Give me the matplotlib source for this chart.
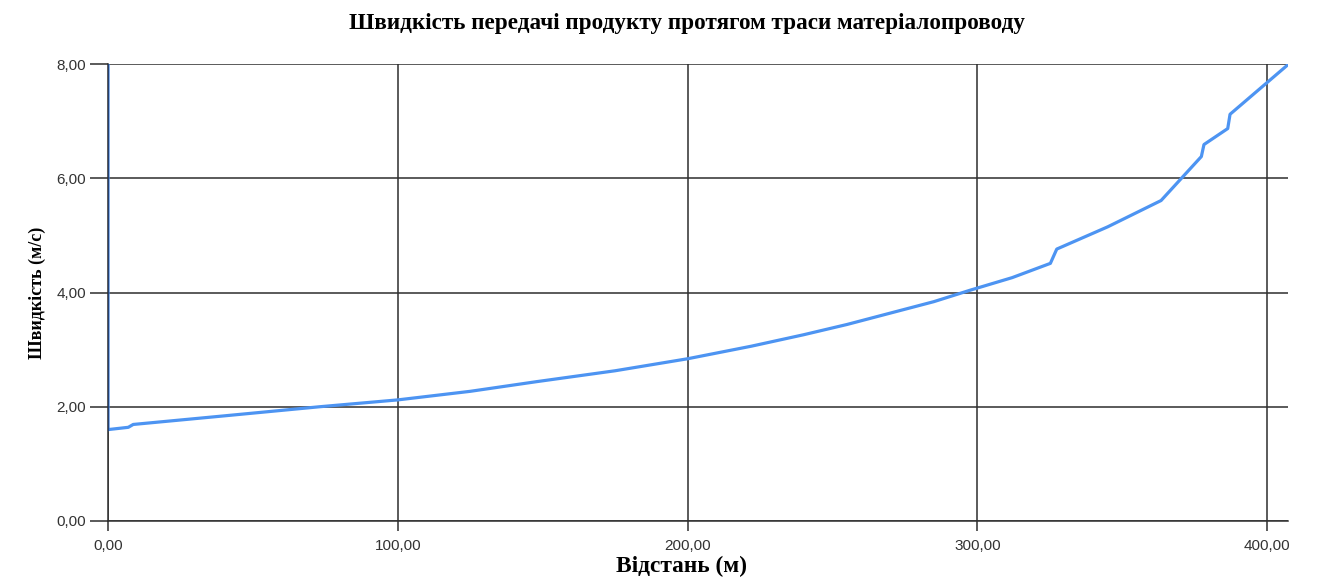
import matplotlib
matplotlib.use("Agg")
import matplotlib.pyplot as plt
from matplotlib.ticker import FuncFormatter, MultipleLocator

# Data
distance = [0, 0, 7.0, 8.7, 40, 73, 100, 125, 148, 175, 200, 222, 240, 255, 270,
            285, 297.5, 312, 325.2, 327.4, 345, 363.4, 377.3, 378.2, 386.4, 387.2, 407]
speed = [8.0, 1.6, 1.64, 1.69, 1.84, 2.0, 2.12, 2.27, 2.44, 2.63, 2.84, 3.06, 3.26, 3.44, 3.64,
         3.84, 4.04, 4.26, 4.51, 4.76, 5.15, 5.61, 6.38, 6.59, 6.87, 7.12, 7.98]
start_x = [0, 0]
start_y = [1.6, 8.0]

title = "Швидкість передачі продукту протягом траси матеріалопроводу"
xlabel = "Відстань (м)"
ylabel = "Швидкість (м/с)"

fig = plt.figure(figsize=(13.24, 5.8), dpi=100)
ax = fig.add_axes([108/1324, 1-521/580, (1288-108)/1324, (521-64)/580])

ax.plot(distance, speed, color="#4d94f2", lw=2.3, solid_joinstyle="round", zorder=3)
ax.plot(start_x, start_y, color="#233f72", lw=1.6, zorder=4)

ax.set_xlim(0, 407.2)
ax.set_ylim(0, 8)
ax.xaxis.set_major_locator(MultipleLocator(100))
ax.yaxis.set_major_locator(MultipleLocator(2))
fmt = FuncFormatter(lambda v, p: f"{v:.2f}".replace(".", ","))
ax.xaxis.set_major_formatter(fmt)
ax.yaxis.set_major_formatter(fmt)

ax.grid(True, color="#2e2e2e", lw=1.1, zorder=1)
ax.set_axisbelow(True)
for s in ["top", "right"]:
    ax.spines[s].set_visible(False)
for s in ["left", "bottom"]:
    ax.spines[s].set_color("#2e2e2e")
    ax.spines[s].set_linewidth(1.1)

ax.tick_params(axis="both", length=13, width=1.1, color="#2e2e2e",
               labelsize=11, labelcolor="#333333", pad=3)
ax.tick_params(axis="x", length=7, pad=6)
for lab in ax.get_xticklabels() + ax.get_yticklabels():
    lab.set_family("Liberation Sans")

fig.text(687/1324, 1-23/580, title, ha="center", va="center",
         fontsize=16.7, fontweight="bold", family="Liberation Serif")
fig.text(682/1324, 1-566/580, xlabel, ha="center", va="center",
         fontsize=16.8, fontweight="bold", family="Liberation Serif")
fig.text(37/1324, 1-293/580, ylabel, ha="center", va="center", rotation=90,
         fontsize=13, fontweight="bold", family="Liberation Serif")

fig.savefig("out.png", dpi=100)
